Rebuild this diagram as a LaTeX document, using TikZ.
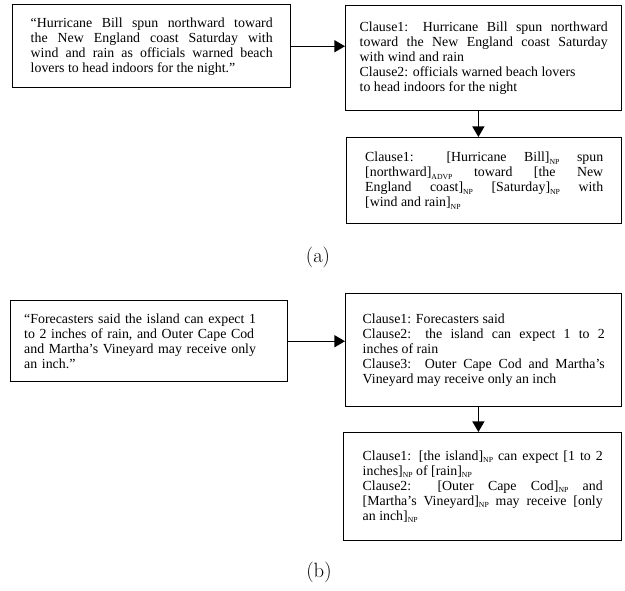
\documentclass[tikz,border=0pt]{standalone}
\usepackage{fontspec}
\newfontfamily\bodyfont{Liberation Serif}
\usetikzlibrary{arrows.meta}
% phrase tags such as NP and ADVP, set small below the line
\newcommand\phr[1]{\raisebox{-1.8pt}{\fontsize{5.8}{6}\selectfont #1}}
% forced break inside a justified paragraph
\newcommand\brk{\linebreak[4]}
\tikzset{
  box/.style={draw, line width=1.1pt, anchor=north west, inner ysep=0pt,
    align=justify, font=\bodyfont\fontsize{10.4}{11.25}\selectfont},
  link/.style={line width=1.1pt, -{Triangle[length=8pt,width=9pt]}},
  caption/.style={font=\fontsize{15.5}{18}\selectfont}
}
\begin{document}
\begin{tikzpicture}[x=0.75pt,y=-0.75pt]
\path[use as bounding box, fill=white] (0,0) rectangle (625,590);

% (a) sentence and its clauses
\node[box, text width=181.5pt, inner xsep=13.5pt, minimum height=62.25pt] (A1) at (12,4)
  {“Hurricane Bill spun northward toward\brk the New England coast Saturday with\brk wind and rain as officials warned beach\brk lovers to head indoors for the night.”};
\node[box, text width=186pt, inner xsep=10.5pt, minimum height=78.75pt] (A2) at (345,5)
  {Clause1: Hurricane Bill spun northward\brk toward the New England coast Saturday\brk with wind and rain\\ Clause2: officials warned beach lovers\\ to head indoors for the night};
\node[box, text width=178.5pt, inner xsep=13.875pt, minimum height=64.5pt] (A3) at (346,137)
  {Clause1: [Hurricane Bill]\phr{NP} spun\brk [northward]\phr{ADVP} toward [the New\brk England coast]\phr{NP} [Saturday]\phr{NP} with\brk [wind and rain]\phr{NP}};
\draw[link] (A1.east) -- (A1.east -| A2.west);
\draw[link] ([xshift=-4pt]A2.south) -- ([xshift=-4pt]A2.south |- A3.north);
\node[caption] (capa) at (318,257) {(a)};

% (b) sentence and its clauses
\node[box, align=left, text width=187.5pt, inner xsep=10.125pt, minimum height=60.75pt] (B1) at (10,300)
  {“Forecasters said the island can expect 1\\ to 2 inches of rain, and Outer Cape Cod\\ and Martha’s Vineyard may receive only\\ an inch.”};
\node[box, text width=181.5pt, inner xsep=12.75pt, minimum height=84.75pt] (B2) at (345,293)
  {Clause1: Forecasters said\\ Clause2: the island can expect 1 to 2\brk inches of rain\\ Clause3:\ \ Outer Cape Cod and Martha’s\brk Vineyard may receive only an inch};
\node[box, text width=180pt, inner xsep=14.25pt, minimum height=81pt] (B3) at (343,432)
  {Clause1: [the island]\phr{NP} can expect [1 to 2\brk inches]\phr{NP} of [rain]\phr{NP}\\ Clause2: [Outer Cape Cod]\phr{NP} and\brk [Martha’s Vineyard]\phr{NP} may receive [only\brk an inch]\phr{NP}};
\draw[link] (B1.east) -- (B1.east -| B2.west);
\draw[link] ([xshift=-4pt]B2.south) -- ([xshift=-4pt]B2.south |- B3.north);
\node[caption] (capb) at (319,572) {(b)};
\end{tikzpicture}
\end{document}
